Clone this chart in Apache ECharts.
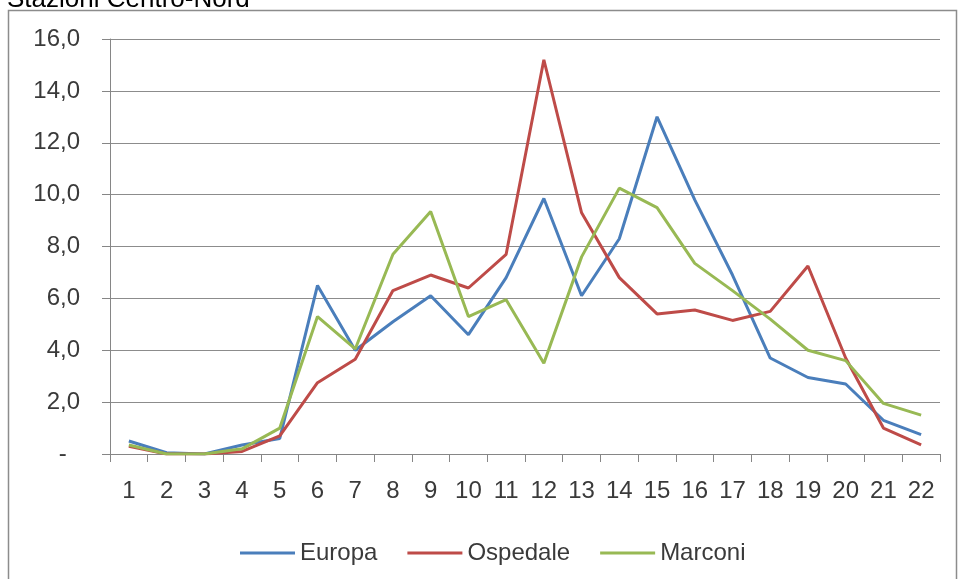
<!DOCTYPE html>
<html><head><meta charset="utf-8">
<script src="https://cdn.jsdelivr.net/npm/echarts@6/dist/echarts.min.js"></script>
<style>html,body{margin:0;padding:0;background:#fff}#c{width:960px;height:579px}</style>
</head><body><div id="c"></div>
<script>
const categories = ['1','2','3','4','5','6','7','8','9','10','11','12','13','14','15','16','17','18','19','20','21','22'];
const europa    = [0.5,0.05,0.0,0.35,0.6,6.5,4.0,5.1,6.1,4.6,6.8,9.85,6.1,8.3,13.0,9.8,6.9,3.7,2.95,2.7,1.3,0.75];
const ospedale  = [0.3,0.0,0.0,0.1,0.7,2.75,3.65,6.3,6.9,6.4,7.7,15.2,9.3,6.8,5.4,5.55,5.15,5.5,7.25,3.7,1.0,0.35];
const marconi   = [0.35,0.0,0.0,0.2,1.0,5.3,4.05,7.7,9.35,5.3,5.95,3.5,7.6,10.25,9.5,7.35,6.3,5.2,4.0,3.6,1.95,1.5];
const seriesNames = ['Europa','Ospedale','Marconi'];
const title = 'Stazioni Centro-Nord';

const font = 'Liberation Sans';
const txt = '#3a3a3a';
const chart = echarts.init(document.getElementById('c'), null, {renderer:'canvas'});
const colors = ['#4A7EBB','#BE4B48','#98B954'];
chart.setOption({
  animation:false,
  color: colors,
  graphic:[
    {type:'text', x:7, y:13, style:{text:title, font:'26px "Liberation Sans"', fill:'#000', verticalAlign:'bottom'}},
    {type:'rect', shape:{x:8.5,y:10.5,width:948,height:600}, style:{fill:'none', stroke:'#8c8c8c', lineWidth:1.5}}
  ],
  grid:{left:110, right:20, top:39, bottom:125},
  legend:{
    top:536, left:235, itemWidth:55, itemHeight:3, itemGap:30,
    icon:'rect',
    textStyle:{fontFamily:font, fontSize:24, color:txt},
    data: seriesNames
  },
  xAxis:{
    type:'category', data:categories, boundaryGap:true,
    axisLine:{lineStyle:{color:'#868686', width:1}},
    axisTick:{show:true, length:8, lineStyle:{color:'#868686'}},
    axisLabel:{fontFamily:font, fontSize:24, color:txt, margin:25}
  },
  yAxis:{
    type:'value', min:0, max:16, interval:2,
    axisLine:{show:true, lineStyle:{color:'#868686'}},
    axisTick:{show:true, length:8, lineStyle:{color:'#868686'}},
    splitLine:{lineStyle:{color:'#8c8c8c', width:1}},
    axisLabel:{fontFamily:font, fontSize:24, color:txt, margin:30,
      formatter:v=> v===0 ? '-  ' : v.toFixed(1).replace('.',',')}
  },
  series:[europa,ospedale,marconi].map((d,i)=>({
    name:seriesNames[i], type:'line', data:d, symbol:'none',
    lineStyle:{width:3, color:colors[i]}, itemStyle:{color:colors[i]}
  }))
});
</script></body></html>
